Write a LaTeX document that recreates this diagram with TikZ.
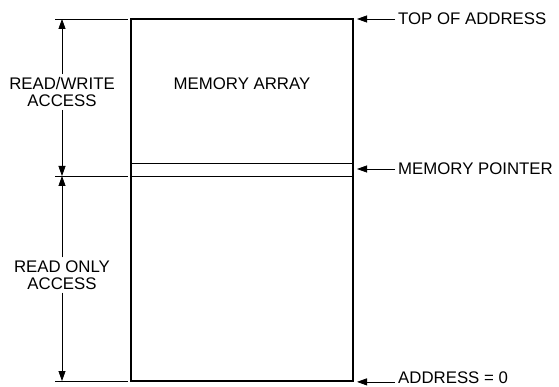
\documentclass[tikz,border=0pt]{standalone}
\usepackage{fontspec}
\setmainfont{Liberation Sans}
\usetikzlibrary{arrows.meta, positioning}

\tikzset{
    lbl/.style={font=\fontsize{16.8}{17}\selectfont, align=center, inner sep=3pt},
    ext/.style={line width=0.8pt},
    dim/.style={line width=0.8pt, -{Triangle[length=10pt,width=7pt]}},
    ptr/.style={line width=0.8pt, -{Triangle[length=10pt,width=7pt]}}
}

\begin{document}
\begin{tikzpicture}[x=1pt, y=-1pt]
    \useasboundingbox (0,0) rectangle (559,387);

    % Memory block
    \node[draw, line width=1.8pt, minimum width=222pt, minimum height=362pt,
          inner sep=0pt] (mem) at (242,200) {};
    \node[lbl] (array) at (242,84) {MEMORY ARRAY};

    % Pointer strip
    \draw[ext] (mem.west |- 0,163) -- (mem.east |- 0,163);
    \draw[ext] (mem.west |- 0,176) -- (mem.east |- 0,176);

    % Extension lines on the left
    \coordinate (topL) at (55,19);
    \coordinate (midL) at (55,176);
    \coordinate (botL) at (55,381);
    \draw[ext] (topL) -- (128,19);
    \draw[ext] (midL) -- (128,176);
    \draw[ext] (botL) -- (128,381);

    % Dimension arrows
    \coordinate (topD) at (62,19);
    \coordinate (midD) at (62,176);
    \coordinate (botD) at (62,381);
    \node[lbl] (rw) at (62,92) {READ/WRITE\\ACCESS};
    \node[lbl] (ro) at (62,275) {READ ONLY\\ACCESS};
    \draw[dim] (rw.north) -- (topD);
    \draw[dim] (rw.south) -- (midD);
    \draw[dim] (ro.north) -- (midD);
    \draw[dim] (ro.south) -- (botD);

    % Pointers on the right
    \node[lbl, anchor=west] (top) at (395,19) {TOP OF ADDRESS};
    \node[lbl, anchor=west] (pointer) at (395,169) {MEMORY POINTER};
    \node[lbl, anchor=west] (zero) at (395,378) {ADDRESS = 0};
    \draw[ptr] (top.west) -- ++(-38,0);
    \draw[ptr] (pointer.west) -- ++(-38,0);
    \draw[ptr] (zero.west |- mem.south) -- ++(-38,0);
\end{tikzpicture}
\end{document}
